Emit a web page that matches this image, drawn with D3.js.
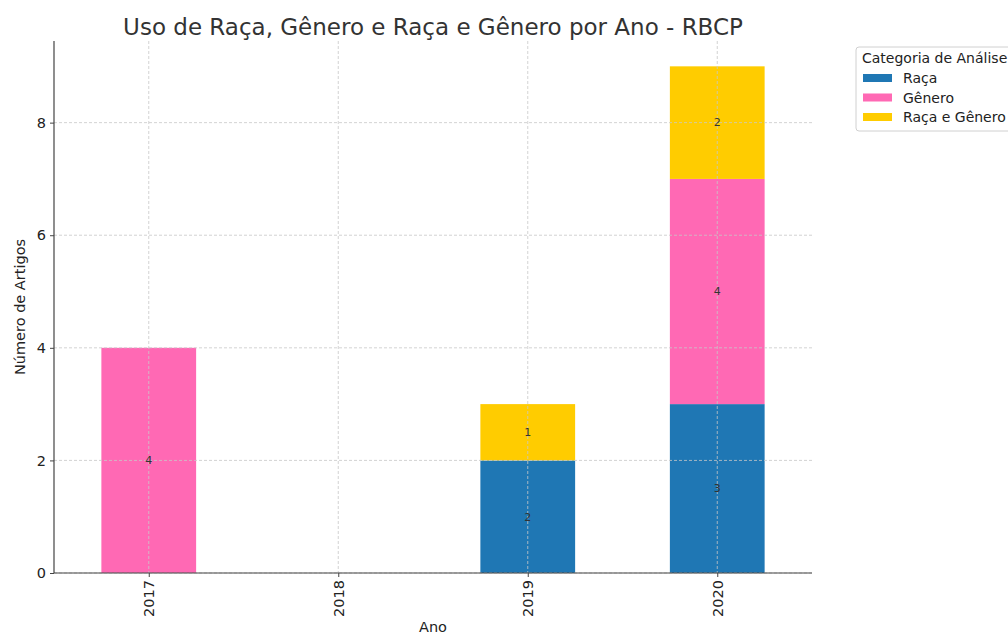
<!DOCTYPE html>
<html lang="pt">
<head>
<meta charset="UTF-8">
<script src="https://d3js.org/d3.v7.min.js"></script>
<style>
body{ margin:0; background:white; font-family:"DejaVu Sans", sans-serif; }
.grid line{ stroke:#c8c8c8; stroke-width:0.8; stroke-dasharray:3,2; }
</style>
</head>
<body>
<svg width="1008" height="635"></svg>
<script>
// dados
const anos = ["2017", "2018", "2019", "2020"]
const categorias = ["Raça", "Gênero", "Raça e Gênero"]
const raca = [0, 0, 2, 3]
const genero = [4, 0, 0, 4]
const racaGenero = [0, 0, 1, 2]
const cores = ["#1f77b4", "#ff69b4", "#ffcc00"]
const yTicks = [0, 2, 4, 6, 8]

const svg = d3.select("svg")
const margin = {left:54, right:196, top:41, bottom:62}
const W = 1008, H = 635
const w = W - margin.left - margin.right
const h = H - margin.top - margin.bottom

const g = svg.append("g").attr("transform", `translate(${margin.left},${margin.top})`)

const x = d3.scaleLinear().domain([-0.5, anos.length - 0.5]).range([0, w])
const y = d3.scaleLinear().domain([0, 9.45]).range([h, 0])

const tabela = anos.map((a, i) => ({ano:a, i:i, "Raça":raca[i], "Gênero":genero[i], "Raça e Gênero":racaGenero[i]}))
const series = d3.stack().keys(categorias)(tabela)
const color = d3.scaleOrdinal().domain(categorias).range(cores)

const bw = x(0.25) - x(-0.25)

series.forEach(function(s){
  g.selectAll(null)
    .data(s.filter(d => d[1] - d[0] > 0))
    .join("rect")
    .attr("x", d => x(d.data.i) - bw/2)
    .attr("width", bw)
    .attr("y", d => y(d[1]))
    .attr("height", d => y(d[0]) - y(d[1]))
    .style("fill", color(s.key))
})

// grade por cima das barras
const grid = g.append("g").attr("class", "grid")
grid.selectAll(".h").data(yTicks).join("line")
  .attr("x1", 0).attr("x2", w).attr("y1", d => y(d)).attr("y2", d => y(d))
grid.selectAll(".v").data(anos).join("line")
  .attr("x1", (d,i) => x(i)).attr("x2", (d,i) => x(i)).attr("y1", 0).attr("y2", h)

// rótulos dos valores
series.forEach(function(s){
  g.selectAll(null)
    .data(s.filter(d => d[1] - d[0] > 0))
    .join("text")
    .attr("x", d => x(d.data.i))
    .attr("y", d => y((d[0] + d[1]) / 2))
    .attr("dy", "0.35em")
    .attr("text-anchor", "middle")
    .style("font-size", "11px")
    .style("fill", "#333")
    .text(d => d[1] - d[0])
})

// eixos
const yAxis = g.append("g")
  .call(d3.axisLeft(y).tickValues(yTicks).tickSize(4).tickPadding(4))
yAxis.select(".domain").attr("d", `M0,0V${h}`).style("stroke", "#444").style("stroke-width", 1.2)
yAxis.selectAll("text").style("font-size", "14.5px").style("fill", "#222").style("font-family", "DejaVu Sans")
yAxis.selectAll(".tick line").style("stroke", "#444")

const xAxis = g.append("g").attr("transform", `translate(0,${h})`)
  .call(d3.axisBottom(x).tickValues(d3.range(anos.length)).tickFormat(i => anos[i]).tickSize(4))
xAxis.select(".domain").attr("d", `M0,0H${w}`).style("stroke", "#444").style("stroke-width", 1.2)
xAxis.selectAll(".tick line").style("stroke", "#444")
xAxis.selectAll("text")
  .attr("transform", "rotate(-90)")
  .attr("text-anchor", "end")
  .attr("x", -7).attr("y", 0).attr("dy", "0.35em")
  .style("font-size", "14.5px").style("fill", "#222").style("font-family", "DejaVu Sans")

// títulos
svg.append("text")
  .attr("x", margin.left + w/2).attr("y", 35)
  .attr("text-anchor", "middle")
  .style("font-size", "23px").style("fill", "#333")
  .text("Uso de Raça, Gênero e Raça e Gênero por Ano - RBCP")

svg.append("text")
  .attr("x", margin.left + w/2).attr("y", 632)
  .attr("text-anchor", "middle")
  .style("font-size", "14.5px").style("fill", "#222")
  .text("Ano")

svg.append("text")
  .attr("transform", `translate(25,${margin.top + h/2}) rotate(-90)`)
  .attr("text-anchor", "middle")
  .style("font-size", "14.5px").style("fill", "#222")
  .text("Número de Artigos")

// legenda
const leg = svg.append("g").attr("transform", "translate(856,47)")
leg.append("rect").attr("x", 0).attr("y", 0).attr("width", 175).attr("height", 84)
  .attr("rx", 3).style("fill", "white").style("stroke", "#d0d0d0")
leg.append("text").attr("x", 6).attr("y", 16)
  .style("font-size", "14px").style("fill", "#222").text("Categoria de Análise")
categorias.forEach(function(c, i){
  leg.append("rect").attr("x", 7).attr("y", 27 + i*19.5).attr("width", 29).attr("height", 8)
    .style("fill", color(c))
  leg.append("text").attr("x", 47).attr("y", 36 + i*19.5)
    .style("font-size", "14px").style("fill", "#222").text(c)
})
</script>
</body>
</html>
